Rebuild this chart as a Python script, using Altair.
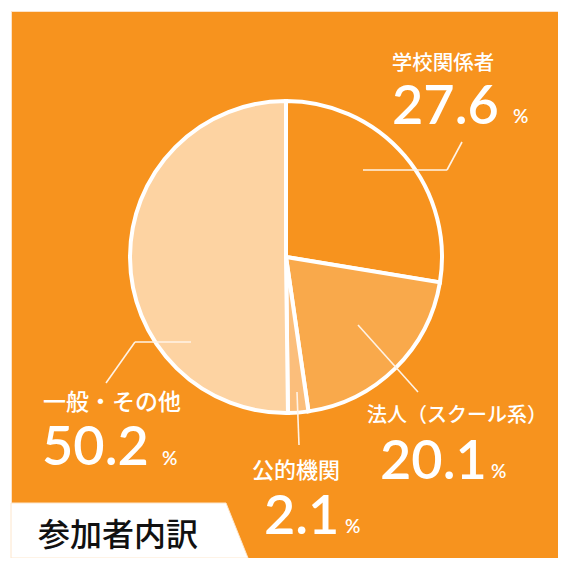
import altair as alt
import pandas as pd

# ---- data ----
categories = ["学校関係者", "法人（スクール系）", "公的機関", "一般・その他"]
values = [27.6, 20.1, 2.1, 50.2]
value_labels = ["27.6", "20.1", "2.1", "50.2"]
slice_colors = ["#F7931E", "#F9A94B", "#FBBE7B", "#FDD3A2"]
title_text = "参加者内訳"

BG = "#F7931E"
JP = "Noto Sans CJK JP"
NUM = "Lato"

df = pd.DataFrame({"cat": categories, "val": values, "order": list(range(len(values)))})

# ---- layout (plot-area pixel coordinates) ----
cx, cy, R = 275, 246, 156
# name (center x, baseline y, size), number (left x, baseline y), percent (left x, baseline y)
label_layout = [
    ((432, 59, 20.5), (381, 113), (502, 112)),
    ((446, 411, 20), (369, 468), (480, 467)),
    ((285, 467, 22), (253, 523), (334, 522)),
    ((101, 399, 23), (31, 454), (151, 454)),
]
leaders = [
    [(352, 159), (436, 159), (451, 131)],
    [(347, 314), (407, 381)],
    [(286, 381), (288, 434)],
    [(180, 331), (124, 331), (95, 372)],
]

pie = alt.Chart(df).mark_arc(outerRadius=R, stroke="white", strokeWidth=4).encode(
    theta=alt.Theta("val:Q", stack=True),
    color=alt.Color("cat:N", scale=alt.Scale(domain=categories, range=slice_colors), legend=None),
    order=alt.Order("order:Q"),
    x=alt.value(cx),
    y=alt.value(cy),
)

layers = [pie]

base_one = alt.Chart(pd.DataFrame({"a": [0]}))

for seg in leaders:
    for (x1, y1), (x2, y2) in zip(seg[:-1], seg[1:]):
        layers.append(
            base_one.mark_rule(color="#FFF3E6", strokeWidth=1.6).encode(
                x=alt.value(x1), y=alt.value(y1), x2=alt.value(x2), y2=alt.value(y2)
            )
        )

for i, ((nx, ny, ns), (vx, vy), (px, py)) in enumerate(label_layout):
    layers.append(
        base_one.mark_text(text=categories[i], font=JP, fontSize=ns, fontWeight=500, color="white",
                           align="center", baseline="alphabetic")
        .encode(x=alt.value(nx), y=alt.value(ny))
    )
    layers.append(
        base_one.mark_text(text=value_labels[i], font=NUM, fontSize=54, fontWeight=600, color="white",
                           align="left", baseline="alphabetic")
        .encode(x=alt.value(vx), y=alt.value(vy))
    )
    layers.append(
        base_one.mark_text(text="%", font=NUM, fontSize=19, fontWeight=600, color="white",
                           align="left", baseline="alphabetic")
        .encode(x=alt.value(px), y=alt.value(py))
    )

# title tab
tab = pd.DataFrame({"y": [492, 547], "x": [215, 237], "x0": [0, 0]})
layers.append(
    alt.Chart(tab).mark_area(orient="horizontal", color="white", stroke="#FDE6CC", strokeWidth=1).encode(
        y=alt.Y("y:Q", scale=None), x=alt.X("x:Q", scale=None), x2="x0:Q"
    )
)
layers.append(
    base_one.mark_text(text=title_text, font=JP, fontSize=32, fontWeight=500, color="#111111",
                       align="left", baseline="alphabetic")
    .encode(x=alt.value(27), y=alt.value(535))
)

chart = alt.layer(*layers).properties(
    width=547, height=547,
    padding={"left": 3, "top": 3, "right": 0, "bottom": 0},
    autosize=alt.AutoSizeParams(type="none"),
    background="white",
).configure_view(fill=BG, stroke="#FDE3C8", strokeWidth=1)

chart.save("out.html", embed_options={"renderer": "svg", "actions": False})
